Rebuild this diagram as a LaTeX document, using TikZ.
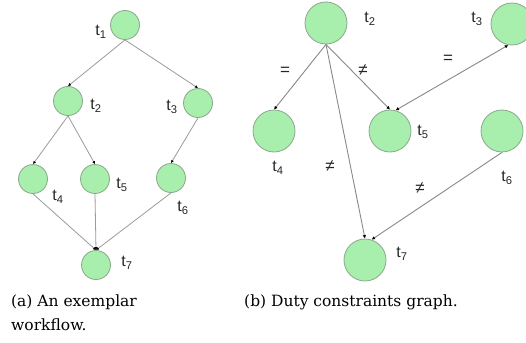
\documentclass[tikz,border=0pt]{standalone}
\usepackage{fontspec}
\setmainfont{DejaVu Serif}
\newfontfamily\labfont{Liberation Sans}
\usetikzlibrary{arrows.meta}
\definecolor{nodefill}{HTML}{A8EEAC}
\definecolor{nodeline}{HTML}{8AA88C}
\definecolor{edgegray}{HTML}{9A9A9A}
\definecolor{edgegrayb}{HTML}{888888}
\tikzset{
  tasksmall/.style={circle, fill=nodefill, draw=nodeline, line width=0.8pt, minimum size=29pt, inner sep=0pt},
  taskbig/.style={circle, fill=nodefill, draw=nodeline, line width=0.8pt, minimum size=42pt, inner sep=0pt},
  lab/.style={font=\labfont\fontsize{16}{18}\selectfont, text=black!85, inner sep=0pt},
  elab/.style={font=\labfont\fontsize{17}{19}\selectfont, text=black!85, inner sep=0pt},
  flow/.style={draw=edgegray, line width=0.8pt, -{Latex[length=3pt,width=3pt,black]}},
  cons/.style={draw=edgegrayb, line width=0.9pt, -{Latex[length=3.5pt,width=3.5pt,black]}},
  consboth/.style={draw=edgegrayb, line width=0.9pt, {Latex[length=3.5pt,width=3.5pt,black]}-{Latex[length=3.5pt,width=3.5pt,black]}},
  captext/.style={font=\fontsize{15.5}{18}\selectfont, inner sep=0pt, anchor=west}
}
\begin{document}
\begin{tikzpicture}[x=1pt, y=-1pt]
\useasboundingbox (0,0) rectangle (526,342);
% ---------- (a) ----------
\node[tasksmall] (a1) at (125,25) {};
\node[tasksmall] (a2) at (68,101) {};
\node[tasksmall] (a3) at (198,103) {};
\node[tasksmall] (a4) at (33,179) {};
\node[tasksmall] (a5) at (95,179) {};
\node[tasksmall] (a6) at (171,178) {};
\node[tasksmall] (a7) at (96,265) {};
\node[lab] (la1) at (101,32) {t\textsubscript{1}};
\node[lab] (la2) at (96,106) {t\textsubscript{2}};
\node[lab] (la3) at (172,107) {t\textsubscript{3}};
\node[lab] (la4) at (58,197) {t\textsubscript{4}};
\node[lab] (la5) at (122,185) {t\textsubscript{5}};
\node[lab] (la6) at (183,208) {t\textsubscript{6}};
\node[lab] (la7) at (127,263) {t\textsubscript{7}};
\draw[flow] (a1.south) -- (a2.north);
\draw[flow] (a1.south) -- (a3.north);
\draw[flow] (a2.south) -- (a4.north);
\draw[flow] (a2.south) -- (a5.north);
\draw[flow] (a3.south) -- (a6.north);
\draw[flow] (a4.south) -- (a7.north);
\draw[flow] (a5.south) -- (a7.north);
\draw[flow] (a6.south) -- (a7.north);
% ---------- (b) ----------
\node[taskbig] (b2) at (326,23) {};
\node[taskbig] (b3) at (512,24) {};
\node[taskbig] (b4) at (274,131) {};
\node[taskbig] (b5) at (390,131) {};
\node[taskbig] (b6) at (502,131) {};
\node[taskbig] (b7) at (365,260) {};
\node[lab] (lb2) at (370,19) {t\textsubscript{2}};
\node[lab] (lb3) at (477,19) {t\textsubscript{3}};
\node[lab] (lb4) at (278,168) {t\textsubscript{4}};
\node[lab] (lb5) at (423,132) {t\textsubscript{5}};
\node[lab] (lb6) at (507,178) {t\textsubscript{6}};
\node[lab] (lb7) at (402,254) {t\textsubscript{7}};
\draw[cons] (b2.south) -- (b4.north);
\draw[cons] (b2.south) -- (b5.north);
\draw[consboth] (b3.260) -- (b5.75);
\draw[cons] (b2.south) -- (b7.north);
\draw[cons] (b6.south) -- (b7.72);
\node[elab] (e1) at (285,71) {=};
\node[elab] (e2) at (363,70) {≠};
\node[elab] (e3) at (448,59) {=};
\node[elab] (e4) at (330,166) {≠};
\node[elab] (e5) at (420,188) {≠};
% ---------- captions ----------
\node[captext] (ca1) at (11,302) {(a) An exemplar};
\node[captext] (ca2) at (11,325) {workflow.};
\node[captext] (cb) at (244,302) {(b) Duty constraints graph.};
\end{tikzpicture}
\end{document}
